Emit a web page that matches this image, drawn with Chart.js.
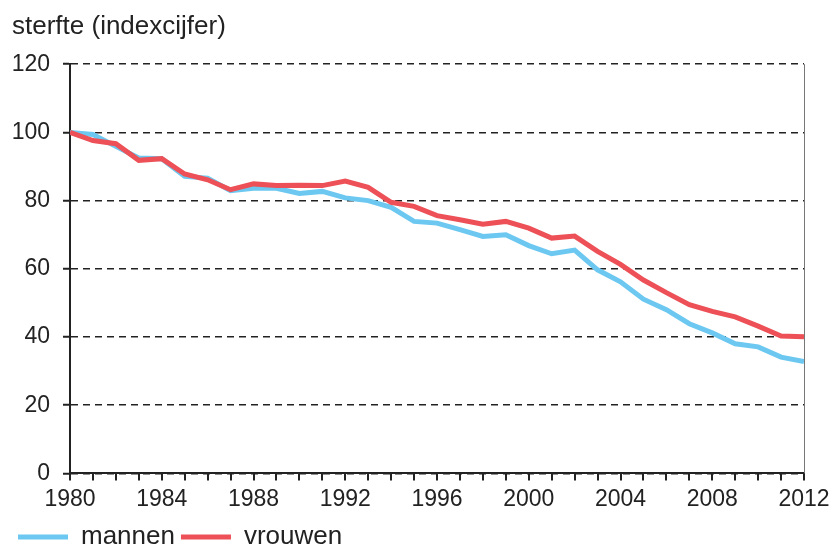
<!DOCTYPE html>
<html>
<head>
<meta charset="utf-8">
<script src="https://cdn.jsdelivr.net/npm/chart.js@4"></script>
<style>
  html, body { margin: 0; padding: 0; background: #fff; }
  #wrap { width: 831px; height: 545px; }
</style>
</head>
<body>
<div id="wrap"><canvas id="lineChart"></canvas></div>
<script>
// jaren 1980 - 2012
var jaren = [1980, 1981, 1982, 1983, 1984, 1985, 1986, 1987, 1988, 1989, 1990,
    1991, 1992, 1993, 1994, 1995, 1996, 1997, 1998, 1999, 2000,
    2001, 2002, 2003, 2004, 2005, 2006, 2007, 2008, 2009, 2010, 2011, 2012];
var mannen = [100, 99.4, 95.9, 92.5, 92.3, 87.1, 86.6, 82.9, 83.6, 83.6, 82.1,
    82.7, 80.8, 80.0, 78.0, 73.9, 73.4, 71.5, 69.5, 70.0, 66.8,
    64.4, 65.5, 59.7, 56.2, 51.1, 48.0, 43.9, 41.2, 38.0, 37.1, 34.1, 32.8];
var vrouwen = [100, 97.6, 96.7, 91.8, 92.3, 87.8, 86.1, 83.2, 84.9, 84.4, 84.5,
    84.4, 85.7, 83.9, 79.5, 78.3, 75.6, 74.4, 73.1, 73.9, 71.9,
    69.0, 69.6, 65.1, 61.3, 56.7, 53.0, 49.5, 47.5, 45.9, 43.2, 40.3, 40.1];
var yTicks = [0, 20, 40, 60, 80, 100, 120];
var xLabelJaren = [1980, 1984, 1988, 1992, 1996, 2000, 2004, 2008, 2012];

var blauw = 'rgb(108, 200, 240)';
var rood = 'rgb(237, 80, 86)';
var font = 'Liberation Sans, Arial, sans-serif';

// dunne grijze lijn rechts van het plotvlak
var rechterRand = {
    id: 'rechterRand',
    afterDraw: function (chart) {
        var a = chart.chartArea;
        var ctx = chart.ctx;
        ctx.save();
        ctx.strokeStyle = '#777';
        ctx.lineWidth = 1;
        ctx.beginPath();
        ctx.moveTo(Math.round(a.right) + 0.5, a.top);
        ctx.lineTo(Math.round(a.right) + 0.5, a.bottom);
        ctx.stroke();
        ctx.restore();
    }
};

document.addEventListener("DOMContentLoaded", () => {
    new Chart(document.querySelector('#lineChart'), {
        type: 'line',
        data: {
            labels: jaren,
            datasets: [{
                label: 'mannen',
                data: mannen,
                borderColor: blauw,
                backgroundColor: blauw,
                borderWidth: 5,
                pointRadius: 0,
                tension: 0,
                order: 1
            },
            {
                label: 'vrouwen',
                data: vrouwen,
                borderColor: rood,
                backgroundColor: rood,
                borderWidth: 5,
                pointRadius: 0,
                tension: 0,
                order: 0
            }]
        },
        plugins: [rechterRand],
        options: {
            responsive: true,
            maintainAspectRatio: false,
            animation: false,
            layout: { padding: { left: 12, right: 22, top: 11, bottom: -15 } },
            plugins: {
                tooltip: { enabled: false },
                title: {
                    display: true,
                    text: 'sterfte (indexcijfer)',
                    align: 'start',
                    color: '#222',
                    font: { family: font, size: 26, weight: 'normal' },
                    padding: { top: 0, bottom: 22 }
                },
                legend: {
                    position: 'bottom',
                    align: 'start',
                    labels: {
                        color: '#222',
                        font: { family: font, size: 26 },
                        boxWidth: 50,
                        boxHeight: 5,
                        padding: 6,
                        generateLabels: function (chart) {
                            return chart.data.datasets.map(function (ds, i) {
                                return {
                                    text: ds.label,
                                    fillStyle: ds.borderColor,
                                    strokeStyle: ds.borderColor,
                                    lineWidth: 0,
                                    fontColor: '#222',
                                    datasetIndex: i
                                };
                            });
                        }
                    }
                }
            },
            scales: {
                x: {
                    type: 'linear',
                    min: 1980,
                    max: 2012,
                    afterBuildTicks: function (scale) {
                        scale.ticks = jaren.map(function (j) { return { value: j }; });
                    },
                    afterFit: function (scale) { scale.paddingRight = 27; },
                    ticks: {
                        autoSkip: false,
                        maxRotation: 0,
                        color: '#222',
                        padding: 5,
                        font: { family: font, size: 23 },
                        callback: function (v) {
                            return xLabelJaren.indexOf(v) >= 0 ? String(v) : '';
                        }
                    },
                    grid: {
                        drawOnChartArea: false,
                        drawTicks: true,
                        tickLength: 7,
                        color: '#222',
                        lineWidth: 2
                    },
                    border: { color: '#222', width: 2 }
                },
                y: {
                    min: 0,
                    max: 120,
                    afterBuildTicks: function (scale) {
                        scale.ticks = yTicks.map(function (t) { return { value: t }; });
                    },
                    afterFit: function (scale) { scale.width = 58; },
                    ticks: {
                        color: '#222',
                        padding: 13,
                        font: { family: font, size: 23 }
                    },
                    grid: {
                        color: '#222',
                        lineWidth: 1.5,
                        tickLength: 7,
                        tickColor: '#222',
                        tickWidth: 2,
                        tickBorderDash: []
                    },
                    border: { color: '#222', width: 2, dash: [7, 5] }
                }
            }
        }
    });
});
</script>
</body>
</html>
